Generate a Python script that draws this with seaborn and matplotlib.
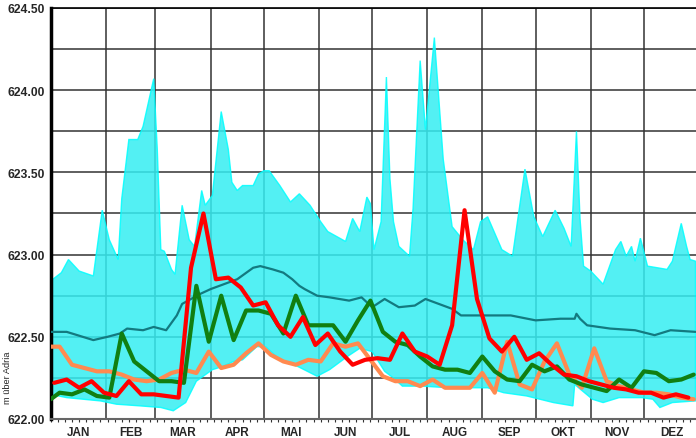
import numpy as np
import pandas as pd
import seaborn as sns
import matplotlib.pyplot as plt
from matplotlib.ticker import FixedLocator, MultipleLocator, FuncFormatter

# ---- data (day of year, m above Adriatic) ----
# historic maximum envelope
upper_days = [0, 6, 10, 16, 24, 29, 33, 38, 40, 44, 49, 52, 58, 60, 62, 64, 68, 70, 74, 78,
              81, 85, 87, 91, 96, 100, 102, 105, 108, 114, 117, 120, 123, 129, 135, 140, 146,
              152, 156, 166, 170, 174, 178, 180, 182, 186, 189, 191, 193, 196, 202, 204, 208,
              211, 216, 221, 226, 232, 238, 242, 246, 254, 260, 267, 272, 277, 284, 289, 293,
              296, 298, 300, 304, 311, 318, 321, 324, 327, 329, 332, 336, 347, 350, 355, 358,
              360, 363]
upper_vals = [622.84, 622.89, 622.97, 622.90, 622.87, 623.27, 623.09, 622.97, 623.34, 623.70,
              623.70, 623.78, 624.07, 623.64, 623.03, 623.02, 622.91, 622.88, 623.30, 623.09,
              623.05, 623.39, 623.30, 623.36, 623.87, 623.64, 623.44, 623.39, 623.42, 623.42,
              623.49, 623.51, 623.51, 623.42, 623.32, 623.37, 623.30, 623.20, 623.14, 623.08,
              623.22, 623.14, 623.35, 623.31, 623.03, 623.20, 624.08, 623.46, 623.20, 623.05,
              622.99, 623.28, 624.18, 623.76, 624.32, 623.58, 623.17, 623.09, 623.03, 623.20,
              623.23, 623.03, 622.99, 623.52, 623.23, 623.11, 623.27, 623.16, 623.05, 623.75,
              623.22, 622.93, 622.90, 622.82, 623.03, 623.08, 622.99, 623.05, 622.96, 623.10,
              622.93, 622.91, 622.96, 623.19, 623.05, 622.97, 622.96]

# historic minimum envelope
lower_days = [0, 9, 28, 37, 50, 62, 69, 76, 82, 91, 97, 103, 108, 116, 121, 129, 139, 150, 157,
              167, 174, 181, 188, 194, 198, 209, 224, 236, 246, 255, 268, 283, 294, 295, 305,
              311, 320, 333, 339, 343, 350, 363]
lower_vals = [622.15, 622.13, 622.11, 622.09, 622.08, 622.07, 622.05, 622.10, 622.23, 622.30,
              622.32, 622.35, 622.36, 622.44, 622.44, 622.36, 622.32, 622.26, 622.30, 622.38,
              622.43, 622.41, 622.29, 622.24, 622.20, 622.20, 622.19, 622.19, 622.19, 622.16,
              622.14, 622.10, 622.08, 622.21, 622.12, 622.10, 622.13, 622.13, 622.12, 622.07,
              622.10, 622.11]

# long-term mean
mean_days = [0, 9, 24, 32, 39, 43, 52, 58, 65, 69, 71, 74, 84, 90, 105, 114, 118, 125, 131,
             136, 140, 143, 150, 157, 168, 175, 181, 188, 196, 205, 211, 216, 226, 231, 241,
             252, 259, 273, 287, 295, 296, 298, 302, 315, 329, 340, 349, 363]
mean_vals = [622.53, 622.53, 622.48, 622.50, 622.52, 622.55, 622.54, 622.56, 622.54, 622.60,
             622.63, 622.70, 622.76, 622.79, 622.85, 622.92, 622.93, 622.91, 622.89, 622.85,
             622.81, 622.79, 622.75, 622.74, 622.72, 622.74, 622.68, 622.73, 622.68, 622.69,
             622.73, 622.71, 622.67, 622.63, 622.63, 622.63, 622.63, 622.60, 622.61, 622.61,
             622.64, 622.61, 622.57, 622.55, 622.54, 622.51, 622.54, 622.53]

# weekly values of three years
red_vals = [622.22, 622.24, 622.19, 622.23, 622.16, 622.14, 622.23, 622.15, 622.15, 622.14,
            622.13, 622.92, 623.25, 622.85, 622.86, 622.80, 622.69, 622.71, 622.57, 622.50,
            622.62, 622.45, 622.52, 622.41, 622.33, 622.36, 622.37, 622.36, 622.52, 622.41,
            622.38, 622.33, 622.57, 623.27, 622.73, 622.49, 622.41, 622.50, 622.36, 622.40,
            622.33, 622.27, 622.26, 622.23, 622.21, 622.19, 622.18, 622.16, 622.16, 622.13,
            622.15, 622.13]
green_vals = [622.12, 622.16, 622.15, 622.18, 622.14, 622.13, 622.52, 622.35, 622.29, 622.23,
              622.23, 622.22, 622.81, 622.47, 622.75, 622.48, 622.66, 622.66, 622.64, 622.52,
              622.75, 622.57, 622.57, 622.57, 622.47, 622.60, 622.72, 622.53, 622.47, 622.45,
              622.38, 622.32, 622.30, 622.30, 622.28, 622.38, 622.29, 622.24, 622.23, 622.33,
              622.29, 622.32, 622.24, 622.21, 622.19, 622.17, 622.24, 622.19, 622.29, 622.28,
              622.23, 622.24, 622.27]
orange_vals = [622.44, 622.44, 622.33, 622.31, 622.29, 622.29, 622.27, 622.24, 622.23, 622.24,
               622.28, 622.30, 622.28, 622.41, 622.31, 622.33, 622.40, 622.46, 622.39, 622.35,
               622.33, 622.36, 622.35, 622.46, 622.44, 622.46, 622.36, 622.26, 622.23, 622.23,
               622.20, 622.24, 622.19, 622.19, 622.19, 622.28, 622.16, 622.47, 622.21, 622.18,
               622.35, 622.46, 622.27, 622.19, 622.43, 622.23, 622.20, 622.18, 622.16, 622.16,
               622.15, 622.13, 622.12]

months = ['JAN', 'FEB', 'MAR', 'APR', 'MAI', 'JUN', 'JUL', 'AUG', 'SEP', 'OKT', 'NOV', 'DEZ']
month_len = [31, 28, 31, 30, 31, 30, 31, 31, 30, 31, 30, 31]

red_days = np.arange(2, 365, 7)
week_days = np.concatenate([[0], np.arange(5, 365, 7)])

# ---- plot ----
sns.set_style('white')
plt.rcParams['font.family'] = ['Liberation Sans', 'DejaVu Sans']

fig = plt.figure(figsize=(6.96, 4.39), dpi=100)
ax = fig.add_axes([50.7 / 696, 19 / 439, 645.3 / 696, 411 / 439])

env_x = np.concatenate([upper_days, lower_days[::-1]])
env_y = np.concatenate([upper_vals, lower_vals[::-1]])
ax.fill(env_x, env_y, facecolor='#35eef2', edgecolor='#00ffff', lw=1, alpha=0.85, zorder=1)

sns.lineplot(x=mean_days, y=mean_vals, ax=ax, color='#137a80', lw=1.6, zorder=3)
sns.lineplot(x=week_days, y=orange_vals, ax=ax, color='#ff8a50', lw=3, zorder=4)
sns.lineplot(x=week_days, y=green_vals, ax=ax, color='#117f11', lw=3, zorder=5)
sns.lineplot(x=red_days, y=red_vals, ax=ax, color='#ff0000', lw=3, zorder=6)

month_start = np.concatenate([[0], np.cumsum(month_len)])
month_mid = month_start[:-1] + np.array(month_len) / 2

ax.set_xlim(0, 363.3)
ax.set_ylim(622.0, 624.5)
ax.set_xlabel('')
ax.set_ylabel('')

ax.xaxis.set_major_locator(FixedLocator(month_start))
ax.xaxis.set_major_formatter(FuncFormatter(lambda v, p: ''))
ax.xaxis.set_minor_locator(FixedLocator(month_mid))
ax.set_xticklabels(months, minor=True)
ax.tick_params(axis='x', which='major', length=6, width=1.2, color='#555555', direction='out')
ax.tick_params(axis='x', which='minor', length=0, pad=5, labelsize=8.5)
for t in ax.get_xticklabels(minor=True):
    t.set_fontweight('bold')

ax.yaxis.set_major_locator(MultipleLocator(0.25))
ax.yaxis.set_major_formatter(FuncFormatter(
    lambda v, p: f'{v:.2f}' if abs(v * 2 - round(v * 2)) < 1e-6 else ''))
ax.yaxis.set_minor_locator(MultipleLocator(0.0625))
ax.tick_params(axis='y', which='both', length=2.5, width=1, direction='out', pad=2, labelsize=8.7)
for t in ax.get_yticklabels():
    t.set_fontweight('bold')

sec = ax.secondary_xaxis('bottom')
sec.set_xticks(np.arange(0, 366, 4))
sec.tick_params(length=2.5, width=0.8, labelbottom=False, color='#333333')
sec.spines['bottom'].set_visible(False)

ax.set_axisbelow(True)
ax.grid(True, which='major', color='#333333', lw=1.1)

for s in ['left']:
    ax.spines[s].set_linewidth(2.5)
    ax.spines[s].set_color('black')
ax.spines['top'].set_color('black')
ax.spines['top'].set_linewidth(1.2)
ax.spines['bottom'].set_color('#666666')
ax.spines['bottom'].set_linewidth(1.5)
ax.spines['right'].set_visible(False)

fig.text(8 / 696, 1 - 378 / 439, 'm über Adria', rotation=90, fontsize=6.7,
         ha='center', va='center')

fig.savefig('out.png', dpi=100)
